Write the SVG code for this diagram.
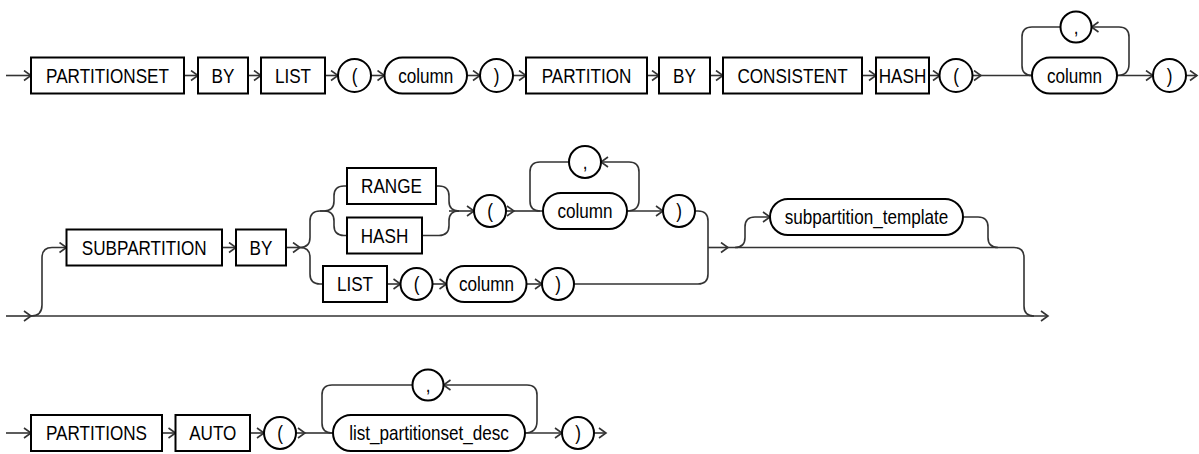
<svg xmlns="http://www.w3.org/2000/svg" width="1199" height="454" viewBox="0 0 1199 454">
<defs>
<style>
.n{fill:#fff;stroke:#000;stroke-width:2}
.t{font-family:"Liberation Sans",Arial,sans-serif;font-size:21px;fill:#000;text-anchor:middle;dominant-baseline:central}
.c path{fill:none;stroke:#333;stroke-width:1.6}
</style>
<marker id="a" markerUnits="userSpaceOnUse" markerWidth="12" markerHeight="12" refX="8" refY="6" orient="auto">
<path d="M1,1 L8,6 L1,11" fill="none" stroke="#333" stroke-width="1.6"/>
</marker>
</defs>
<rect width="1199" height="454" fill="#fff"/>
<g class="c" id="connectors">
<path d="M6,75.5 H31" marker-end="url(#a)"/>
<path d="M184,75.5 H198" marker-end="url(#a)"/>
<path d="M248,75.5 H261" marker-end="url(#a)"/>
<path d="M325,75.5 H338" marker-end="url(#a)"/>
<path d="M371,75.5 H384.5" marker-end="url(#a)"/>
<path d="M467,75.5 H480" marker-end="url(#a)"/>
<path d="M513,75.5 H526" marker-end="url(#a)"/>
<path d="M647,75.5 H659" marker-end="url(#a)"/>
<path d="M710,75.5 H723" marker-end="url(#a)"/>
<path d="M862,75.5 H876" marker-end="url(#a)"/>
<path d="M929,75.5 H940" marker-end="url(#a)"/>
<path d="M972,75.5 H981" marker-end="url(#a)"/>
<path d="M981,75.5 H1032"/>
<path d="M1060.5,27 H1032 Q1022,27 1022,37 V65.5 Q1022,75.5 1032,75.5"/>
<path d="M1117,75.5 Q1129,75.5 1129,64 V37 Q1129,27 1119,27 H1091.5" marker-end="url(#a)"/>
<path d="M1117,75.5 H1153" marker-end="url(#a)"/>
<path d="M1186,75.5 H1197" marker-end="url(#a)"/>
<path d="M6,316 H31" marker-end="url(#a)"/>
<path d="M31,316 H1048" marker-end="url(#a)"/>
<path d="M31,316 Q42,316 42,305 V258 Q42,247.5 52,247.5 H66.5" marker-end="url(#a)"/>
<path d="M222,247.5 H236" marker-end="url(#a)"/>
<path d="M286,247.5 H300" marker-end="url(#a)"/>
<path d="M300,247.5 Q310,247.5 310,237.5 V221 Q310,211 320,211 H324"/>
<path d="M300,247.5 Q310,247.5 310,257.5 V274 Q310,284 320,284 H323"/>
<path d="M320,211 H324 Q334,211 334,201 V196 Q334,186 344,186 H347"/>
<path d="M324,211 Q334,211 334,221 V225.5 Q334,235.5 344,235.5 H347"/>
<path d="M436,186 H439 Q449,186 449,196 V201 Q449,211 459,211"/>
<path d="M422,235.5 H439 Q449,235.5 449,225.5 V221 Q449,211 459,211"/>
<path d="M449,211 H474" marker-end="url(#a)"/>
<path d="M506,211 H514" marker-end="url(#a)"/>
<path d="M514,211 H543"/>
<path d="M569,162 H540 Q530,162 530,172 V201 Q530,211 540,211"/>
<path d="M627,211 Q639,211 639,200 V172 Q639,162 629,162 H601" marker-end="url(#a)"/>
<path d="M627,211 H663" marker-end="url(#a)"/>
<path d="M695,211 H698 Q708,211 708,221 V274 Q708,284 698,284 H574"/>
<path d="M387,284 H400.5" marker-end="url(#a)"/>
<path d="M432.5,284 H446.5" marker-end="url(#a)"/>
<path d="M526.5,284 H542" marker-end="url(#a)"/>
<path d="M708,247.5 H728" marker-end="url(#a)"/>
<path d="M728,247.5 H1014 Q1024,247.5 1024,257.5 V306 Q1024,316 1034,316"/>
<path d="M735,247.5 Q745,247.5 745,237.5 V227 Q745,217 755,217 H770" marker-end="url(#a)"/>
<path d="M963,217 H978 Q988,217 988,227 V237.5 Q988,247.5 998,247.5"/>
<path d="M6,433 H31" marker-end="url(#a)"/>
<path d="M162,433 H175.5" marker-end="url(#a)"/>
<path d="M250,433 H264" marker-end="url(#a)"/>
<path d="M296,433 H305" marker-end="url(#a)"/>
<path d="M305,433 H333"/>
<path d="M412.5,385 H332 Q322,385 322,395 V423 Q322,433 332,433"/>
<path d="M525,433 Q537,433 537,421 V395 Q537,385 527,385 H443.5" marker-end="url(#a)"/>
<path d="M525,433 H562" marker-end="url(#a)"/>
<path d="M594,433 H606" marker-end="url(#a)"/>
</g>
<g id="n_partitionset"><rect class="n" x="31" y="57.5" width="153" height="36"/><text class="t" transform="translate(107.5,75.5) scale(.815,1)">PARTITIONSET</text></g>
<g id="n_by1"><rect class="n" x="198" y="57.5" width="50" height="36"/><text class="t" transform="translate(223,75.5) scale(.815,1)">BY</text></g>
<g id="n_list1"><rect class="n" x="261" y="57.5" width="64" height="36"/><text class="t" transform="translate(293,75.5) scale(.815,1)">LIST</text></g>
<g id="n_lp1"><circle class="n" cx="354.5" cy="75.5" r="16.5"/><text class="t" transform="translate(354.5,75.5) scale(.815,1)">(</text></g>
<g id="n_col1"><rect class="n" x="384.5" y="57.5" width="82.5" height="36" rx="18"/><text class="t" transform="translate(425.75,75.5) scale(.815,1)">column</text></g>
<g id="n_rp1"><circle class="n" cx="496.5" cy="75.5" r="16.5"/><text class="t" transform="translate(496.5,75.5) scale(.815,1)">)</text></g>
<g id="n_partition"><rect class="n" x="526" y="57.5" width="121" height="36"/><text class="t" transform="translate(586.5,75.5) scale(.815,1)">PARTITION</text></g>
<g id="n_by2"><rect class="n" x="659" y="57.5" width="51" height="36"/><text class="t" transform="translate(684.5,75.5) scale(.815,1)">BY</text></g>
<g id="n_consistent"><rect class="n" x="723" y="57.5" width="139" height="36"/><text class="t" transform="translate(792.5,75.5) scale(.815,1)">CONSISTENT</text></g>
<g id="n_hash1"><rect class="n" x="876" y="57.5" width="53" height="36"/><text class="t" transform="translate(902.5,75.5) scale(.815,1)">HASH</text></g>
<g id="n_lp2"><circle class="n" cx="956" cy="75.5" r="16.5"/><text class="t" transform="translate(956,75.5) scale(.815,1)">(</text></g>
<g id="n_comma1"><circle class="n" cx="1076" cy="27" r="15.5"/><text class="t" transform="translate(1076,27) scale(.815,1)">,</text></g>
<g id="n_col2"><rect class="n" x="1032" y="57.5" width="85" height="36" rx="18"/><text class="t" transform="translate(1074.5,75.5) scale(.815,1)">column</text></g>
<g id="n_rp2"><circle class="n" cx="1169.5" cy="75.5" r="16.5"/><text class="t" transform="translate(1169.5,75.5) scale(.815,1)">)</text></g>
<g id="n_subpartition"><rect class="n" x="66.5" y="229.5" width="155.5" height="36"/><text class="t" transform="translate(144.25,247.5) scale(.815,1)">SUBPARTITION</text></g>
<g id="n_by3"><rect class="n" x="236" y="229.5" width="50" height="36"/><text class="t" transform="translate(261,247.5) scale(.815,1)">BY</text></g>
<g id="n_range"><rect class="n" x="347" y="168" width="89" height="36"/><text class="t" transform="translate(391.5,186) scale(.815,1)">RANGE</text></g>
<g id="n_hash2"><rect class="n" x="347" y="217.5" width="75" height="36"/><text class="t" transform="translate(384.5,235.5) scale(.815,1)">HASH</text></g>
<g id="n_list2"><rect class="n" x="323" y="266" width="64" height="36"/><text class="t" transform="translate(355,284) scale(.815,1)">LIST</text></g>
<g id="n_lp3"><circle class="n" cx="490" cy="211" r="16"/><text class="t" transform="translate(490,211) scale(.815,1)">(</text></g>
<g id="n_comma2"><circle class="n" cx="585" cy="162" r="16"/><text class="t" transform="translate(585,162) scale(.815,1)">,</text></g>
<g id="n_col3"><rect class="n" x="543" y="193" width="84" height="36" rx="18"/><text class="t" transform="translate(585,211) scale(.815,1)">column</text></g>
<g id="n_rp3"><circle class="n" cx="679" cy="211" r="16"/><text class="t" transform="translate(679,211) scale(.815,1)">)</text></g>
<g id="n_lp4"><circle class="n" cx="416.5" cy="284" r="16"/><text class="t" transform="translate(416.5,284) scale(.815,1)">(</text></g>
<g id="n_col4"><rect class="n" x="446.5" y="266" width="80" height="36" rx="18"/><text class="t" transform="translate(486.5,284) scale(.815,1)">column</text></g>
<g id="n_rp4"><circle class="n" cx="558" cy="284" r="16"/><text class="t" transform="translate(558,284) scale(.815,1)">)</text></g>
<g id="n_subtemplate"><rect class="n" x="770" y="199" width="193" height="36" rx="18"/><text class="t" transform="translate(866.5,217) scale(.815,1)">subpartition_template</text></g>
<g id="n_partitions"><rect class="n" x="31" y="415" width="131" height="36"/><text class="t" transform="translate(96.5,433) scale(.815,1)">PARTITIONS</text></g>
<g id="n_auto"><rect class="n" x="175.5" y="415" width="74.5" height="36"/><text class="t" transform="translate(212.75,433) scale(.815,1)">AUTO</text></g>
<g id="n_lp5"><circle class="n" cx="280" cy="433" r="16"/><text class="t" transform="translate(280,433) scale(.815,1)">(</text></g>
<g id="n_comma3"><circle class="n" cx="428" cy="385" r="15.5"/><text class="t" transform="translate(428,385) scale(.815,1)">,</text></g>
<g id="n_lpdesc"><rect class="n" x="333" y="415" width="192" height="36" rx="18"/><text class="t" transform="translate(429,433) scale(.815,1)">list_partitionset_desc</text></g>
<g id="n_rp5"><circle class="n" cx="578" cy="433" r="16"/><text class="t" transform="translate(578,433) scale(.815,1)">)</text></g>
</svg>
